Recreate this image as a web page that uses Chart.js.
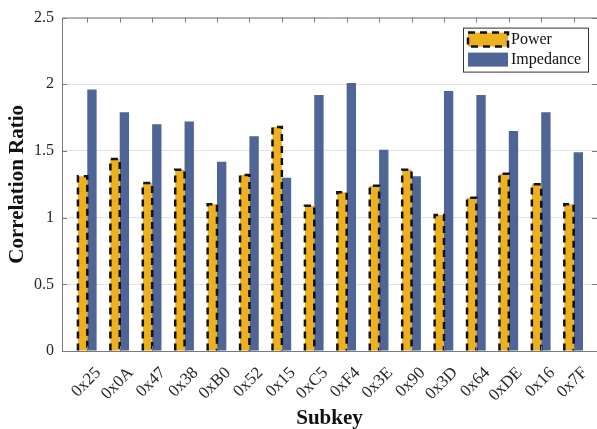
<!DOCTYPE html>
<html>
<head>
<meta charset="utf-8">
<script src="https://cdn.jsdelivr.net/npm/chart.js@4/dist/chart.umd.min.js"></script>
<style>
html, body { margin: 0; padding: 0; background: #fff; overflow: hidden; }
</style>
</head>
<body>
<canvas id="chart" width="597" height="429"></canvas>
<script>
var subkeys = ["0x25", "0x0A", "0x47", "0x38", "0xB0", "0x52", "0x15", "0xC5",
               "0xF4", "0x3E", "0x90", "0x3D", "0x64", "0xDE", "0x16", "0x7F"];
var powerRatio = [1.31, 1.44, 1.26, 1.36, 1.10, 1.32, 1.68, 1.09,
                  1.19, 1.24, 1.36, 1.02, 1.15, 1.33, 1.25, 1.10];
var impedanceRatio = [1.96, 1.79, 1.70, 1.72, 1.42, 1.61, 1.30, 1.92,
                      2.01, 1.51, 1.31, 1.95, 1.92, 1.65, 1.79, 1.49];
var yTicks = [0, 0.5, 1, 1.5, 2, 2.5];

var serif = "'Liberation Serif', 'Times New Roman', serif";
var axisColor = '#7a7a7a';

function points(values) {
    return values.map(function(v, i) { return {x: i + 1, y: v}; });
}

// dashed black edge round the power bars (bar elements can't dash their border)
var dashedEdges = {
    id: 'dashedEdges',
    afterDatasetsDraw: function(chart) {
        var ctx = chart.ctx;
        ctx.save();
        ctx.strokeStyle = '#111';
        ctx.lineWidth = 2.5;
        ctx.setLineDash([7, 5]);
        chart.getDatasetMeta(0).data.forEach(function(bar) {
            var p = bar.getProps(['x', 'y', 'base', 'width'], true);
            var l = p.x - p.width / 2, r = p.x + p.width / 2;
            ctx.beginPath();
            ctx.moveTo(l, p.base);
            ctx.lineTo(l, p.y);
            ctx.lineTo(r, p.y);
            ctx.lineTo(r, p.base);
            ctx.stroke();
        });
        ctx.restore();
    }
};

// matlab style box (right side is cut off in the original) with inward ticks,
// plus the legend inside the axes
var boxAndLegend = {
    id: 'boxAndLegend',
    afterDraw: function(chart) {
        var ctx = chart.ctx, a = chart.chartArea;
        var xs = chart.scales.x, ys = chart.scales.y;
        ctx.save();
        ctx.strokeStyle = axisColor;
        ctx.lineWidth = 1;
        ctx.beginPath();
        ctx.moveTo(a.right, a.top + 0.5);
        ctx.lineTo(a.left + 0.5, a.top + 0.5);
        ctx.lineTo(a.left + 0.5, a.bottom + 0.5);
        ctx.lineTo(a.right, a.bottom + 0.5);
        yTicks.forEach(function(t) {
            var y = Math.round(ys.getPixelForValue(t)) + 0.5;
            ctx.moveTo(a.left, y); ctx.lineTo(a.left + 5, y);
            ctx.moveTo(a.right, y); ctx.lineTo(a.right - 5, y);
        });
        subkeys.forEach(function(s, i) {
            var x = Math.round(xs.getPixelForValue(i + 1)) + 0.5;
            ctx.moveTo(x, a.top); ctx.lineTo(x, a.top + 5);
            ctx.moveTo(x, a.bottom); ctx.lineTo(x, a.bottom - 5);
        });
        ctx.stroke();

        // legend
        var bw = 125, bh = 44;
        var bx = a.right - 9 - bw, by = a.top + 10;
        ctx.fillStyle = '#fff';
        ctx.fillRect(bx, by, bw, bh);
        ctx.strokeStyle = '#333';
        ctx.strokeRect(bx + 0.5, by + 0.5, bw, bh);
        ctx.font = '16px ' + serif;
        ctx.textBaseline = 'middle';
        chart.data.datasets.forEach(function(ds, i) {
            var sy = by + 5 + i * 20;
            ctx.fillStyle = ds.backgroundColor;
            ctx.fillRect(bx + 5, sy, 40, 14);
            if (i === 0) {
                ctx.strokeStyle = '#111';
                ctx.lineWidth = 2.5;
                ctx.setLineDash([7, 5]);
                ctx.strokeRect(bx + 5, sy, 40, 14);
                ctx.setLineDash([]);
            }
            ctx.fillStyle = '#111';
            ctx.fillText(ds.label, bx + 48, sy + 7);
        });
        ctx.restore();
    }
};

new Chart(document.getElementById('chart'), {
    type: 'bar',
    data: {
        datasets: [{
            label: 'Power',
            data: points(powerRatio),
            backgroundColor: '#EDB120',
            borderWidth: 0
        }, {
            label: 'Impedance',
            data: points(impedanceRatio),
            backgroundColor: '#4E6595',
            borderWidth: 0
        }]
    },
    options: {
        responsive: false,
        animation: false,
        categoryPercentage: 0.576,
        barPercentage: 1,
        layout: { padding: { top: 14, right: -1, left: 0, bottom: 0 } },
        plugins: {
            legend: { display: false },
            tooltip: { enabled: false }
        },
        scales: {
            x: {
                type: 'linear',
                offset: false,
                min: 0.22,
                max: 16.72,
                afterBuildTicks: function(axis) {
                    axis.ticks = subkeys.map(function(s, i) { return {value: i + 1}; });
                },
                afterFit: function(axis) { axis.height = 78; },
                grid: { display: false },
                border: { display: false },
                ticks: {
                    autoSkip: false,
                    maxRotation: 45,
                    minRotation: 45,
                    padding: 4,
                    labelOffset: 11,
                    color: '#262626',
                    font: { family: serif, size: 17 },
                    callback: function(v) { return subkeys[v - 1]; }
                },
                title: {
                    display: true,
                    text: 'Subkey',
                    color: '#111',
                    padding: { top: 0, bottom: 0 },
                    font: { family: serif, size: 21, weight: 'bold', lineHeight: 1 }
                }
            },
            y: {
                min: 0,
                max: 2.5,
                afterBuildTicks: function(axis) {
                    axis.ticks = yTicks.map(function(t) { return {value: t}; });
                },
                afterFit: function(axis) { axis.width = 62; },
                grid: { color: '#e3e3e3', drawTicks: false },
                border: { display: false },
                ticks: {
                    padding: 8,
                    color: '#262626',
                    font: { family: serif, size: 16 },
                    callback: function(v) { return String(v); }
                },
                title: {
                    display: true,
                    text: 'Correlation Ratio',
                    color: '#111',
                    padding: { top: 7, bottom: 0 },
                    font: { family: serif, size: 21, weight: 'bold', lineHeight: 1 }
                }
            }
        }
    },
    plugins: [dashedEdges, boxAndLegend]
});
</script>
</body>
</html>
